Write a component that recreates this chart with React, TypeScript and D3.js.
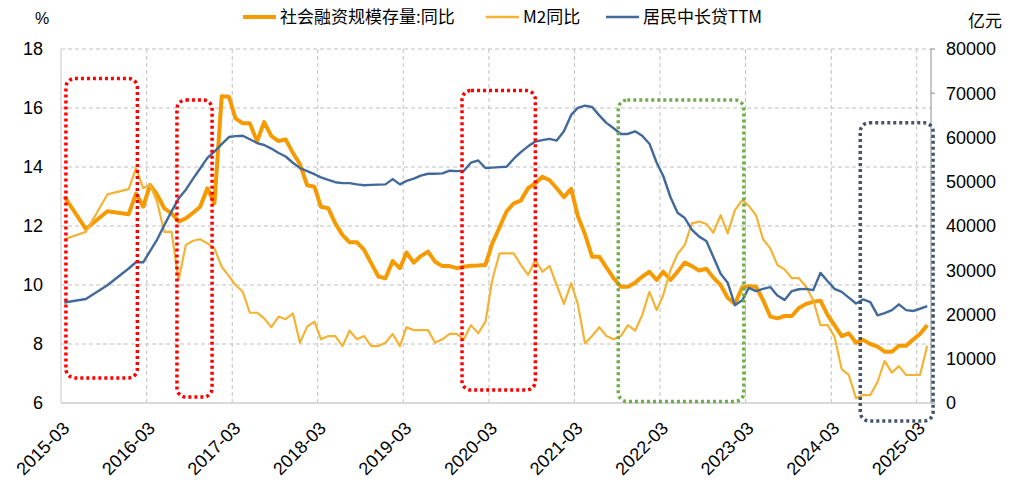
import React from "react";
import * as d3 from "d3";

// Dates of observations (quarterly in 2015, monthly after)
const months: string[] = [
  "2015-03", "2015-06", "2015-09", "2015-12",
  "2016-01", "2016-02", "2016-03", "2016-04", "2016-05", "2016-06", "2016-07", "2016-08", "2016-09", "2016-10", "2016-11", "2016-12",
  "2017-01", "2017-02", "2017-03", "2017-04", "2017-05", "2017-06", "2017-07", "2017-08", "2017-09", "2017-10", "2017-11", "2017-12",
  "2018-01", "2018-02", "2018-03", "2018-04", "2018-05", "2018-06", "2018-07", "2018-08", "2018-09", "2018-10", "2018-11", "2018-12",
  "2019-01", "2019-02", "2019-03", "2019-04", "2019-05", "2019-06", "2019-07", "2019-08", "2019-09", "2019-10", "2019-11", "2019-12",
  "2020-01", "2020-02", "2020-03", "2020-04", "2020-05", "2020-06", "2020-07", "2020-08", "2020-09", "2020-10", "2020-11", "2020-12",
  "2021-01", "2021-02", "2021-03", "2021-04", "2021-05", "2021-06", "2021-07", "2021-08", "2021-09", "2021-10", "2021-11", "2021-12",
  "2022-01", "2022-02", "2022-03", "2022-04", "2022-05", "2022-06", "2022-07", "2022-08", "2022-09", "2022-10", "2022-11", "2022-12",
  "2023-01", "2023-02", "2023-03", "2023-04", "2023-05", "2023-06", "2023-07", "2023-08", "2023-09", "2023-10", "2023-11", "2023-12",
  "2024-01", "2024-02", "2024-03", "2024-04", "2024-05", "2024-06", "2024-07", "2024-08", "2024-09", "2024-10", "2024-11", "2024-12",
  "2025-01", "2025-02", "2025-03", "2025-04",
];

// 社会融资规模存量:同比 (%)
const tsfGrowth: number[] = [
  13.0, 11.9, 12.5, 12.4,
  13.1, 12.66, 13.39, 13.05, 12.6, 12.43, 12.15, 12.26, 12.45, 12.65, 13.28, 12.77,
  16.4, 16.38, 15.65, 15.48, 15.48, 14.87, 15.52, 15.05, 14.88, 14.93, 14.48, 14.1,
  13.38, 13.33, 12.65, 12.6, 12.09, 11.69, 11.45, 11.45, 11.19, 10.74, 10.29, 10.23,
  10.81, 10.57, 11.1, 10.76, 10.98, 11.13, 10.79, 10.64, 10.64, 10.57, 10.62, 10.65,
  10.66, 10.68, 11.41, 11.95, 12.49, 12.77, 12.86, 13.28, 13.45, 13.67, 13.55, 13.28,
  12.98, 13.26, 12.35, 11.72, 10.96, 10.96, 10.6, 10.23, 9.94, 9.94, 10.08, 10.28,
  10.45, 10.17, 10.45, 10.17, 10.45, 10.76, 10.64, 10.49, 10.55, 10.25, 10.0, 9.57,
  9.36, 9.92, 9.96, 9.94, 9.49, 8.93, 8.87, 8.95, 8.95, 9.22, 9.36, 9.43,
  9.47, 8.98, 8.64, 8.27, 8.36, 8.04, 8.14, 8.0, 7.91, 7.74, 7.74, 7.94,
  7.94, 8.16, 8.34, 8.64,
];

// M2同比 (%)
const m2Growth: number[] = [
  11.55, 11.8, 13.07, 13.25,
  13.96, 13.28, 13.4, 12.8, 11.8, 11.8, 10.17, 11.36, 11.5, 11.55, 11.41, 11.24,
  10.62, 10.3, 10.0, 9.77, 9.06, 9.06, 8.87, 8.57, 8.93, 8.84, 9.04, 8.04,
  8.59, 8.76, 8.16, 8.27, 8.27, 7.93, 8.45, 8.16, 8.27, 7.93, 7.93, 8.04,
  8.34, 7.93, 8.57, 8.47, 8.47, 8.47, 8.04, 8.16, 8.34, 8.34, 8.16, 8.64,
  8.36, 8.76, 10.17, 11.07, 11.07, 11.07, 10.68, 10.34, 10.85, 10.45, 10.64, 10.0,
  9.36, 10.06, 9.36, 8.02, 8.27, 8.57, 8.27, 8.16, 8.27, 8.64, 8.45, 8.98,
  9.77, 9.15, 9.66, 10.51, 11.05, 11.36, 12.09, 12.15, 12.07, 11.77, 12.37, 11.75,
  12.54, 12.88, 12.68, 12.37, 11.55, 11.24, 10.68, 10.53, 10.23, 10.23, 9.94, 9.49,
  8.64, 8.64, 8.25, 7.14, 6.95, 6.16, 6.27, 6.27, 6.72, 7.43, 7.03, 7.25,
  6.95, 6.95, 6.95, 7.94,
];

// 居民中长贷TTM (亿元)
const householdLoanTTM: number[] = [
  22700, 23500, 26600, 30400,
  31800, 31800, 34300, 37000, 40200, 43300, 46200, 48200, 50700, 53000, 55400, 56800,
  58500, 60100, 60300, 60400, 59600, 58750, 58300, 57500, 56500, 55700, 54300, 53100,
  52400, 51700, 51000, 50400, 49900, 49700, 49700, 49400, 49200, 49300, 49350, 49400,
  50600, 49400, 50200, 50700, 51400, 51800, 51800, 51900, 52500, 52400, 52500, 54300,
  54800, 53100, 53200, 53300, 53400, 55200, 56700, 58000, 59100, 59400, 59700, 59300,
  61400, 65100, 66700, 67200, 66900, 65000, 63300, 62100, 60800, 60800, 61400, 60400,
  58600, 54300, 51300, 46500, 43000, 41800, 39200, 37600, 36600, 33000, 29200, 27200,
  22100, 23200, 26000, 25300, 25800, 26200, 24300, 23300, 25300, 25700, 25800, 25500,
  29400, 27500, 25800, 25100, 23800, 22500, 23400, 22800, 19800, 20300, 21000, 22300,
  21000, 20800, 21300, 21900,
];

const tickLabels: string[] = [
  "2015-03", "2016-03", "2017-03", "2018-03", "2019-03", "2020-03",
  "2021-03", "2022-03", "2023-03", "2024-03", "2025-03",
];
const leftTicks: number[] = [6, 8, 10, 12, 14, 16, 18];
const rightTicks: number[] = [0, 10000, 20000, 30000, 40000, 50000, 60000, 70000, 80000];

// Highlight boxes in data units: [startDate, endDate, topValue, bottomValue] (left axis units)
const boxStarts: string[] = ["2015-03-22", "2016-07-08", "2019-11-07", "2021-09-04", "2024-07-03"];
const boxEnds: string[] = ["2016-01-21", "2016-12-05", "2020-09-15", "2023-02-22", "2025-05-10"];
const boxTops: number[] = [17.0, 16.27, 16.59, 16.27, 15.5];
const boxBottoms: number[] = [6.85, 6.2, 6.44, 6.05, 5.39];
const boxColors: string[] = ["#FF0000", "#FF0000", "#FF0000", "#70AD47", "#44546A"];

const W = 1014;
const H = 482;
const L = 61;
const R = 931;
const T = 49;
const B = 403;

const parseMonth = d3.timeParse("%Y-%m");
const parseDay = d3.timeParse("%Y-%m-%d");

export default function App() {
  const x = d3
    .scaleTime()
    .domain([new Date(2015, 2, 1), new Date(2025, 4, 1)])
    .range([L, R]);
  const yL = d3.scaleLinear().domain([6, 18]).range([B, T]);
  const yR = d3.scaleLinear().domain([0, 80000]).range([B, T]);

  // observations plotted mid-month
  const dates = months.map((m) => d3.timeDay.offset(parseMonth(m) as Date, 14));

  const lineL = d3
    .line<number>()
    .x((_, i) => x(dates[i]))
    .y((v) => yL(v));
  const lineR = d3
    .line<number>()
    .x((_, i) => x(dates[i]))
    .y((v) => yR(v));

  const tickDates = tickLabels.map((t) => parseMonth(t) as Date);
  const gridColor = "#BFBFBF";
  const numFont = "'Liberation Sans', Arial, sans-serif";
  const cjkFont = "'Noto Sans CJK SC', 'Liberation Sans', sans-serif";

  const legend = [
    { label: "社会融资规模存量:同比", color: "#F59A00", w: 4, x0: 243 },
    { label: "M2同比", color: "#F5B335", w: 2.5, x0: 486 },
    { label: "居民中长贷TTM", color: "#41699A", w: 2.5, x0: 606 },
  ];

  return (
    <svg width={W} height={H} style={{ position: "absolute", left: 0, top: 0, background: "#fff" }}>
      <rect x={0} y={0} width={W} height={H} fill="#fff" />
      {/* horizontal gridlines */}
      {leftTicks
        .filter((t) => t !== 6)
        .map((t) => (
          <line key={"h" + t} x1={L} x2={R} y1={yL(t)} y2={yL(t)} stroke={gridColor} strokeWidth={1} strokeDasharray="4 3" />
        ))}
      {/* vertical gridlines */}
      {tickDates.slice(1).map((d, i) => (
        <line key={"v" + i} x1={x(d)} x2={x(d)} y1={T} y2={B} stroke={gridColor} strokeWidth={1} strokeDasharray="4 3" />
      ))}
      {/* axes */}
      <line x1={L} x2={L} y1={T} y2={B} stroke="#D9D9D9" strokeWidth={1.5} />
      <line x1={L} x2={R} y1={B} y2={B} stroke="#D9D9D9" strokeWidth={2} />
      <line x1={R} x2={R} y1={T} y2={B} stroke="#8C8C8C" strokeWidth={1} />
      {rightTicks.map((t) => (
        <line key={"rt" + t} x1={R} x2={R + 4} y1={yR(t)} y2={yR(t)} stroke="#8C8C8C" strokeWidth={1} />
      ))}

      {/* left labels */}
      {leftTicks.map((t) => (
        <text key={"ll" + t} x={43} y={yL(t)} dy="0.35em" textAnchor="end" fontFamily={numFont} fontSize={18} fill="#000">
          {t}
        </text>
      ))}
      {/* right labels */}
      {rightTicks.map((t) => (
        <text key={"rl" + t} x={946} y={yR(t)} dy="0.35em" textAnchor="start" fontFamily={numFont} fontSize={18} fill="#000">
          {t}
        </text>
      ))}
      {/* x labels */}
      {tickDates.map((d, i) => (
        <text
          key={"xl" + i}
          transform={`translate(${x(d) + 5},${B + 22}) rotate(-45)`}
          textAnchor="end"
          dy="0.35em"
          fontFamily={numFont}
          fontSize={18}
          fill="#000"
        >
          {tickLabels[i]}
        </text>
      ))}

      {/* series */}
      <path d={lineL(tsfGrowth) || ""} fill="none" stroke="#F59A00" strokeWidth={4} strokeLinejoin="round" />
      <path d={lineL(m2Growth) || ""} fill="none" stroke="#F5B335" strokeWidth={2.2} strokeLinejoin="round" />
      <path d={lineR(householdLoanTTM) || ""} fill="none" stroke="#41699A" strokeWidth={2.4} strokeLinejoin="round" />

      {/* highlight boxes */}
      {boxStarts.map((s, i) => {
        const x1 = x(parseDay(s) as Date);
        const x2 = x(parseDay(boxEnds[i]) as Date);
        const y1 = yL(boxTops[i]);
        const y2 = yL(boxBottoms[i]);
        return (
          <rect
            key={"box" + i}
            x={x1}
            y={y1}
            width={x2 - x1}
            height={y2 - y1}
            rx={9}
            ry={9}
            fill="none"
            stroke={boxColors[i]}
            strokeWidth={3.5}
            strokeDasharray="3 3"
          />
        );
      })}

      {/* units */}
      <text x={42} y={18} dy="0.35em" textAnchor="middle" fontFamily={numFont} fontSize={16} fill="#000">
        %
      </text>
      <text x={985} y={21} dy="0.35em" textAnchor="middle" fontFamily={cjkFont} fontSize={17} fill="#000">
        亿元
      </text>

      {/* legend */}
      {legend.map((g) => (
        <g key={g.label}>
          <line x1={g.x0} x2={g.x0 + 33} y1={17} y2={17} stroke={g.color} strokeWidth={g.w} />
          <text x={g.x0 + 37} y={17} dy="0.35em" fontFamily={cjkFont} fontSize={17} fill="#000">
            {g.label}
          </text>
        </g>
      ))}
    </svg>
  );
}
